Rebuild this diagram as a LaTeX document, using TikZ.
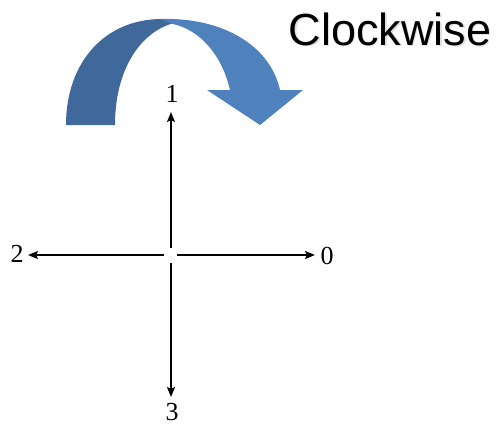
\documentclass[tikz,border=0pt]{standalone}
\usepackage{fontspec}
\setmainfont{Liberation Serif}
\newfontfamily\arialish{Liberation Sans}
\usetikzlibrary{arrows.meta}
\definecolor{darkblue}{HTML}{41689A}
\definecolor{lightblue}{HTML}{4F81BD}
\tikzset{
  axis/.style={line width=1.8pt, -{Stealth[length=10pt,width=8pt,inset=2pt]}},
  digit/.style={font=\fontsize{26}{26}\selectfont, inner sep=0pt},
}
\begin{document}
\begin{tikzpicture}[x=1pt,y=-1pt]
\useasboundingbox (0,0) rectangle (500,426);
% curved arrow: back band
\fill[darkblue] (66,125) .. controls (66,62) and (105,19) .. (162,19)
   -- (174,23) .. controls (140,32) and (115,70) .. (115,125) -- cycle;
% front band with head
\fill[lightblue] (160,19) .. controls (222,17) and (270,45) .. (280,90)
   -- (303,90) -- (260,125) -- (207,90) -- (230,90)
   .. controls (222,55) and (200,30) .. (173,24) -- cycle;
% title
\node[font=\arialish\fontsize{45}{45}\selectfont, text=black!12, anchor=base] at (391.5,46.5) {Clockwise};
\node[font=\arialish\fontsize{45}{45}\selectfont, anchor=base] (title) at (390,45) {Clockwise};
% axes
\coordinate (c) at (171,255);
\coordinate (cl) at (164,255);
\coordinate (cr) at (177,255);
\coordinate (cu) at (171,248);
\coordinate (cd) at (171,263);
\coordinate (t0) at (315,255);
\coordinate (t1) at (171,112);
\coordinate (t2) at (28,255);
\coordinate (t3) at (171,397);
\draw[axis] (cr) -- (t0);
\draw[axis] (cu) -- (t1);
\draw[axis] (cl) -- (t2);
\draw[axis] (cd) -- (t3);
\node[digit] (n0) at (327,256) {0};
\node[digit] (n1) at (172,94) {1};
\node[digit] (n2) at (17,254) {2};
\node[digit] (n3) at (172,412) {3};
\end{tikzpicture}
\end{document}
